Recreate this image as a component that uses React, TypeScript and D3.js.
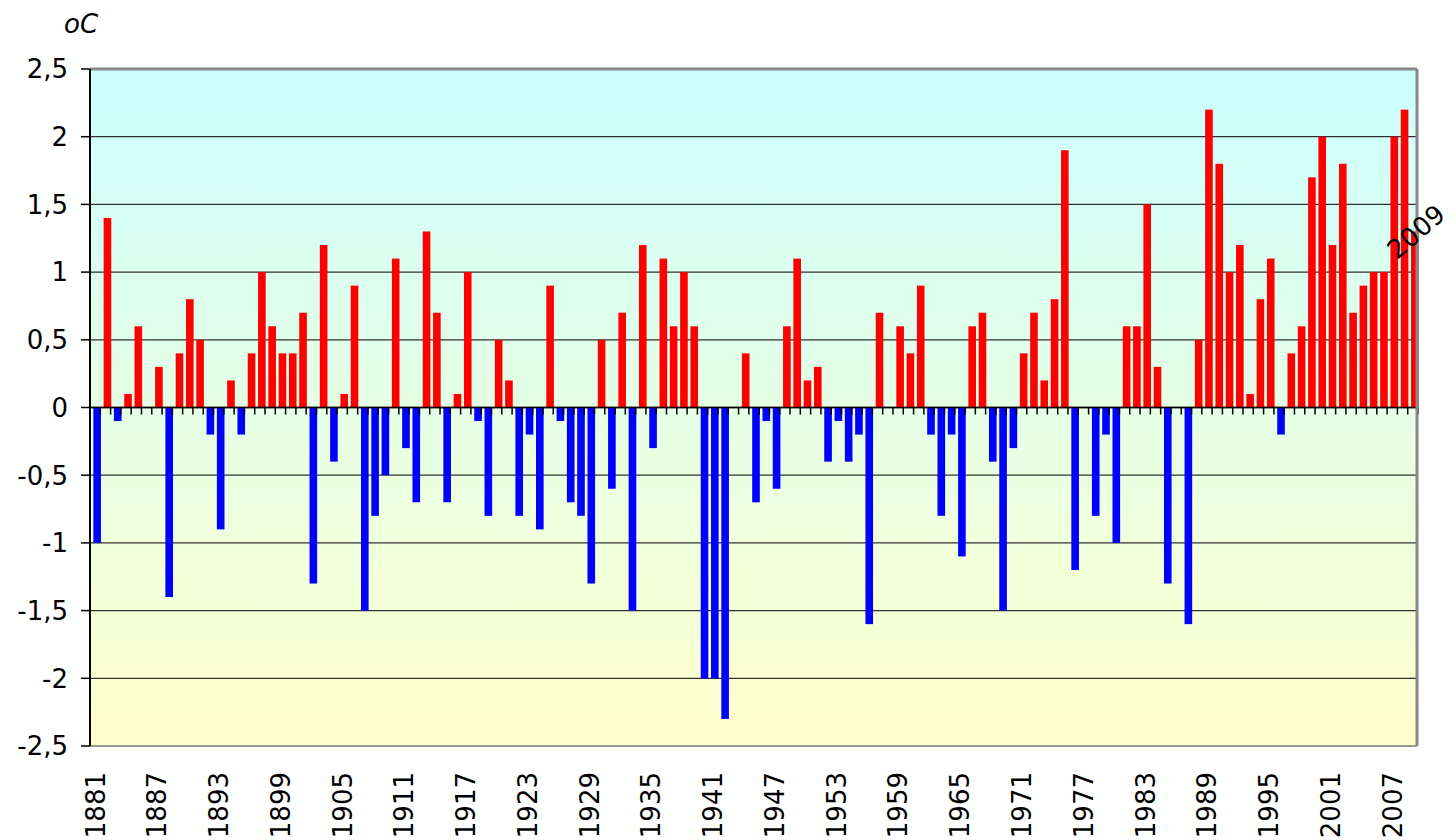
import * as d3 from 'd3';

// yearly temperature anomalies, oC
const years: number[] = d3.range(1881, 2010);
const anomalies: number[] = [
  -1.0, 1.4, -0.1, 0.1, 0.6, 0, 0.3, -1.4, 0.4, 0.8, // 1881-1890
  0.5, -0.2, -0.9, 0.2, -0.2, 0.4, 1.0, 0.6, 0.4, 0.4, // 1891-1900
  0.7, -1.3, 1.2, -0.4, 0.1, 0.9, -1.5, -0.8, -0.5, 1.1, // 1901-1910
  -0.3, -0.7, 1.3, 0.7, -0.7, 0.1, 1.0, -0.1, -0.8, 0.5, // 1911-1920
  0.2, -0.8, -0.2, -0.9, 0.9, -0.1, -0.7, -0.8, -1.3, 0.5, // 1921-1930
  -0.6, 0.7, -1.5, 1.2, -0.3, 1.1, 0.6, 1.0, 0.6, -2.0, // 1931-1940
  -2.0, -2.3, 0, 0.4, -0.7, -0.1, -0.6, 0.6, 1.1, 0.2, // 1941-1950
  0.3, -0.4, -0.1, -0.4, -0.2, -1.6, 0.7, 0, 0.6, 0.4, // 1951-1960
  0.9, -0.2, -0.8, -0.2, -1.1, 0.6, 0.7, -0.4, -1.5, -0.3, // 1961-1970
  0.4, 0.7, 0.2, 0.8, 1.9, -1.2, 0, -0.8, -0.2, -1.0, // 1971-1980
  0.6, 0.6, 1.5, 0.3, -1.3, 0, -1.6, 0.5, 2.2, 1.8, // 1981-1990
  1.0, 1.2, 0.1, 0.8, 1.1, -0.2, 0.4, 0.6, 1.7, 2.0, // 1991-2000
  1.2, 1.8, 0.7, 0.9, 1.0, 1.0, 2.0, 2.2, 1.3, // 2001-2009
];
const xTickYears: number[] = [
  1881, 1887, 1893, 1899, 1905, 1911, 1917, 1923, 1929, 1935, 1941,
  1947, 1953, 1959, 1965, 1971, 1977, 1983, 1989, 1995, 2001, 2007,
];
const yTicks: number[] = [2.5, 2, 1.5, 1, 0.5, 0, -0.5, -1, -1.5, -2, -2.5];
const unitLabel = 'oC';

const width = 1453;
const height = 840;
const plotLeft = 90;
const plotRight = 1417;
const plotTop = 69;
const plotBottom = 746;
const barShift = 2;
const font = '"DejaVu Sans", Verdana, sans-serif';

const fmt = (v: number) => String(v).replace('.', ',');

export default function App() {
  const x = d3
    .scaleBand<number>()
    .domain(years)
    .range([plotLeft, plotRight + 1])
    .paddingInner(0.26)
    .paddingOuter(0.13);

  const y = d3.scaleLinear().domain([-2.5, 2.5]).range([plotBottom, plotTop]);

  const step = x.step();
  const bw = x.bandwidth();
  const y0 = y(0);
  const data = years.map((yr, i) => ({ year: yr, value: anomalies[i] }));
  const last = data[data.length - 1];
  const catCenter = (yr: number) => (x(yr) as number) + bw / 2;

  return (
    <svg
      width={width}
      height={height}
      style={{ position: 'absolute', left: 0, top: 0, background: '#fff' }}
      fontFamily={font}
    >
      <defs>
        <linearGradient id="bg" x1="0" y1="0" x2="0" y2="1">
          <stop offset="0%" stopColor="#ccffff" />
          <stop offset="100%" stopColor="#ffffcc" />
        </linearGradient>
      </defs>

      {/* plot area */}
      <rect
        x={plotLeft}
        y={plotTop}
        width={plotRight - plotLeft}
        height={plotBottom - plotTop}
        fill="url(#bg)"
      />

      {/* grid lines */}
      {yTicks
        .filter((t) => t !== 2.5 && t !== -2.5)
        .map((t) => (
          <line
            key={'g' + t}
            x1={plotLeft}
            x2={plotRight}
            y1={y(t)}
            y2={y(t)}
            stroke="#303030"
            strokeWidth={1.3}
          />
        ))}

      {/* bars */}
      {data
        .filter((d) => d.value !== 0)
        .map((d) => (
          <rect
            key={d.year}
            x={(x(d.year) as number) + barShift}
            y={Math.min(y(d.value), y0)}
            width={bw}
            height={Math.abs(y(d.value) - y0)}
            fill={d.value > 0 ? '#ff0000' : '#0000ff'}
          />
        ))}

      {/* zero line with category ticks */}
      <line x1={plotLeft} x2={plotRight} y1={y0} y2={y0} stroke="#000" strokeWidth={1.5} />
      {years.map((yr, i) => {
        const bx = plotLeft + (i + 1) * step;
        return (
          <line key={'t' + yr} x1={bx} x2={bx} y1={y0} y2={y0 + 7} stroke="#000" strokeWidth={1.5} />
        );
      })}

      {/* frame */}
      <line x1={plotLeft} x2={plotRight} y1={plotTop} y2={plotTop} stroke="#888" strokeWidth={3} />
      <line x1={plotRight} x2={plotRight} y1={plotTop} y2={plotBottom} stroke="#888" strokeWidth={3} />
      <line x1={plotLeft} x2={plotRight} y1={plotBottom} y2={plotBottom} stroke="#999" strokeWidth={2} />
      <line x1={plotLeft} x2={plotLeft} y1={plotTop} y2={plotBottom} stroke="#000" strokeWidth={2} />

      {/* y axis */}
      {yTicks.map((t) => (
        <g key={'y' + t}>
          <line x1={81} x2={plotLeft} y1={y(t)} y2={y(t)} stroke="#000" strokeWidth={1.5} />
          <text x={68} y={y(t)} dy="0.36em" textAnchor="end" fontSize={26} fill="#000">
            {fmt(t)}
          </text>
        </g>
      ))}
      <text x={81} y={33} textAnchor="middle" fontSize={26} fontStyle="italic" fill="#000">
        {unitLabel}
      </text>

      {/* x axis labels */}
      {xTickYears.map((yr) => (
        <text
          key={'x' + yr}
          transform={`translate(${catCenter(yr)},772) rotate(-90)`}
          dy="0.36em"
          textAnchor="end"
          fontSize={26}
          fill="#000"
        >
          {yr}
        </text>
      ))}

      {/* label for the last year */}
      <text
        transform={`translate(${catCenter(last.year) + 3},${y(last.value)}) rotate(-41)`}
        dy="0.36em"
        textAnchor="middle"
        fontSize={26}
        fill="#000"
      >
        {last.year}
      </text>
    </svg>
  );
}
